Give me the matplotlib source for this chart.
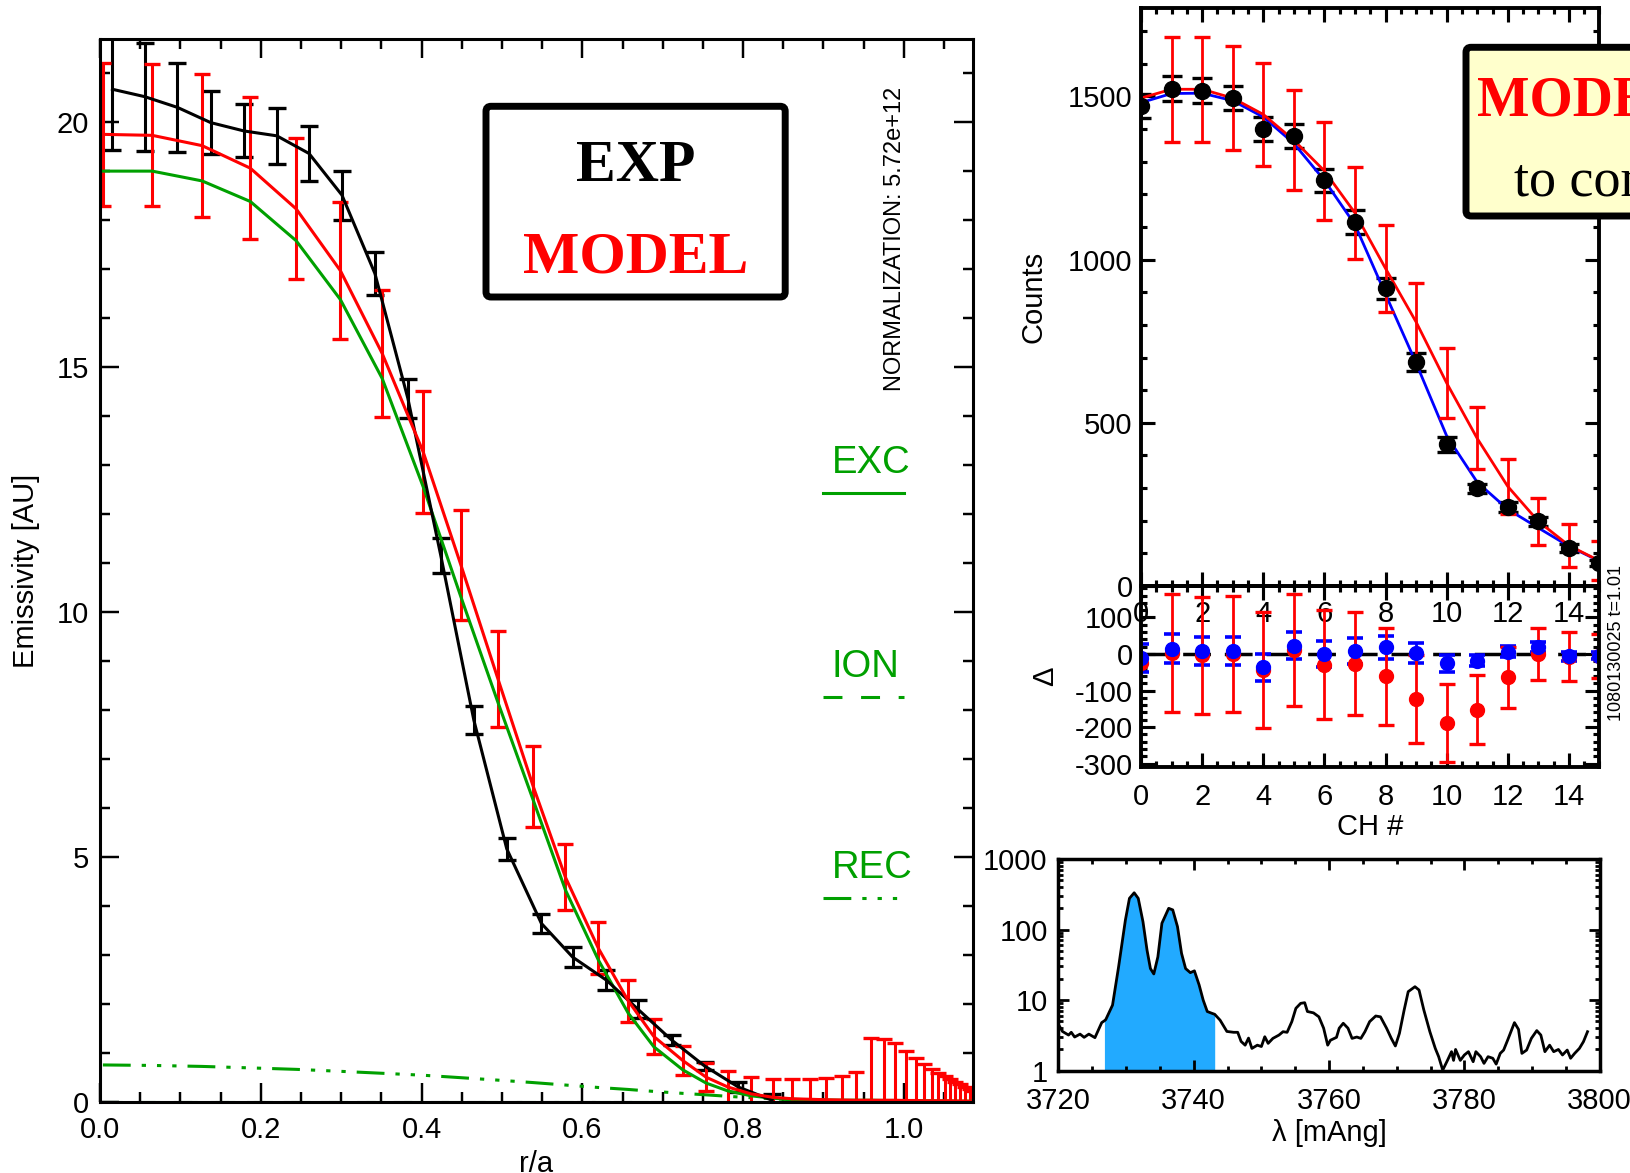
import matplotlib
matplotlib.use("Agg")
import numpy as np
import matplotlib.pyplot as plt
from matplotlib.lines import Line2D
from matplotlib.patches import FancyBboxPatch
from matplotlib.ticker import (MultipleLocator, FixedLocator, FixedFormatter,
                               LogLocator, NullFormatter, FormatStrFormatter)

plt.rcParams['font.family'] = ['Liberation Sans', 'DejaVu Sans']
plt.rcParams['axes.unicode_minus'] = False

RED = '#ff0000'
GREEN = '#00a000'
BLUE = '#0000ff'
FILL = '#22aaff'
BOXFILL = '#ffffcc'
SERIF = ['Liberation Serif', 'DejaVu Serif']

# ---------------- emissivity profile (r/a) ----------------
exp_r = [0.0155, 0.0555, 0.0964, 0.1377, 0.179, 0.220, 0.260, 0.301, 0.342, 0.383,
         0.424, 0.465, 0.506, 0.549, 0.588, 0.630, 0.669, 0.711, 0.752, 0.794, 0.836]
exp_em = [20.66, 20.51, 20.29, 19.98, 19.81, 19.71, 19.35, 18.50, 16.90, 14.35,
          11.14, 7.79, 5.16, 3.64, 2.95, 2.48, 1.89, 1.26, 0.73, 0.30, 0.03]
exp_err = [1.24, 1.10, 0.91, 0.64, 0.54, 0.57, 0.56, 0.50, 0.44, 0.40,
           0.36, 0.29, 0.23, 0.20, 0.20, 0.21, 0.19, 0.10, 0.08, 0.10, 0.12]

model_r = [0.0036, 0.065, 0.127, 0.187, 0.244, 0.299, 0.351, 0.402, 0.449, 0.495,
           0.539, 0.579, 0.620, 0.657, 0.689, 0.725, 0.754, 0.781, 0.810, 0.837,
           0.861, 0.883, 0.903, 0.923, 0.940, 0.959, 0.975, 0.989, 1.003, 1.015,
           1.025, 1.035, 1.043, 1.051, 1.058, 1.064, 1.070, 1.076, 1.082, 1.087]
model_em = [19.74, 19.72, 19.51, 19.05, 18.22, 16.96, 15.27, 13.26, 10.95, 8.63,
            6.43, 4.58, 3.13, 2.06, 1.33, 0.84, 0.50, 0.30, 0.16, 0.09,
            0.06, 0.05, 0.04, 0.035, 0.03, 0.03, 0.03, 0.03, 0.025, 0.025,
            0.02, 0.02, 0.02, 0.02, 0.02, 0.015, 0.015, 0.015, 0.01, 0.01]
model_err = [1.46, 1.45, 1.46, 1.45, 1.44, 1.40, 1.30, 1.25, 1.12, 0.98,
             0.83, 0.67, 0.53, 0.43, 0.36, 0.30, 0.29, 0.33, 0.34, 0.37,
             0.40, 0.41, 0.45, 0.485, 0.58, 1.28, 1.24, 1.16, 1.015, 0.875,
             0.75, 0.64, 0.57, 0.50, 0.44, 0.395, 0.345, 0.295, 0.25, 0.21]
exc_em = [18.99, 18.99, 18.79, 18.37, 17.57, 16.37, 14.76, 12.55, 10.30, 8.15,
          6.15, 4.32, 2.89, 1.81, 1.12, 0.65, 0.38, 0.22, 0.12, 0.07,
          0.05, 0.04, 0.035, 0.03, 0.03, 0.03, 0.025, 0.025, 0.02, 0.02,
          0.02, 0.02, 0.015, 0.015, 0.015, 0.01, 0.01, 0.01, 0.01, 0.01]
ion_em = [0.0, 0.0, 0.0, 0.0, 0.0, 0.0, 0.0, 0.0, 0.0, 0.0,
          0.0, 0.0, 0.0, 0.0, 0.0, 0.0, 0.0, 0.0, 0.0, 0.0,
          0.0, 0.0, 0.0, 0.0, 0.0, 0.0, 0.0, 0.0, 0.0, 0.0,
          0.0, 0.0, 0.0, 0.0, 0.0, 0.0, 0.0, 0.0, 0.0, 0.0]
rec_em = [0.75, 0.74, 0.72, 0.69, 0.66, 0.62, 0.58, 0.54, 0.49, 0.44,
          0.39, 0.34, 0.29, 0.25, 0.21, 0.17, 0.14, 0.11, 0.08, 0.06,
          0.04, 0.03, 0.02, 0.015, 0.01, 0.01, 0.01, 0.005, 0.005, 0.005,
          0.005, 0.0, 0.0, 0.0, 0.0, 0.0, 0.0, 0.0, 0.0, 0.0]
normalization = '5.72e+12'

# ---------------- channel counts ----------------
channel = [0, 1, 2, 3, 4, 5, 6, 7, 8, 9, 10, 11, 12, 13, 14, 15]
counts = [1471, 1524, 1518, 1495, 1401, 1378, 1243, 1116, 912, 686, 434, 300, 241, 198, 116, 71]
counts_err = [38, 39, 38, 38, 37, 37, 36, 36, 32, 27, 22, 14, 15, 14, 12, 10]
fit_blue = [1481, 1509, 1510, 1487, 1437, 1356, 1243, 1107, 894, 683, 460, 318, 235, 178, 122, 76]
model_counts = [1495, 1522, 1522, 1495, 1445, 1366, 1272, 1143, 973, 809, 622, 452, 305, 198, 124, 77]
model_counts_err = [0, 161, 161, 160, 158, 153, 150, 141, 132, 120, 107, 95, 83, 72, 67, 60]
shot_label = '1080130025 t=1.01'

# ---------------- spectrum ----------------
lam = [3719.8, 3720.6, 3721.5, 3721.9, 3722.4, 3723.2, 3723.8, 3724.5, 3725.4, 3726.4,
       3726.8, 3727.0, 3728.0, 3728.9, 3729.9, 3730.5, 3731.2, 3731.8, 3732.5, 3733.1,
       3733.6, 3734.1, 3734.7, 3735.3, 3736.3, 3736.9, 3737.6, 3738.2, 3738.8, 3739.5,
       3740.1, 3740.8, 3741.4, 3742.0, 3742.7, 3743.1, 3743.9, 3744.9, 3745.9, 3746.5,
       3747.0, 3747.6, 3748.1, 3748.6, 3749.4, 3750.0, 3750.5, 3751.0, 3751.7, 3752.6,
       3753.2, 3753.8, 3754.5, 3755.1, 3755.8, 3756.4, 3756.8, 3757.7, 3758.5, 3759.2,
       3759.8, 3760.2, 3761.1, 3761.5, 3762.1, 3762.8, 3763.4, 3764.1, 3764.7, 3765.3,
       3766.0, 3766.9, 3767.6, 3768.5, 3769.2, 3769.8, 3770.4, 3771.1, 3771.7, 3772.7,
       3773.3, 3774.0, 3774.9, 3775.7, 3776.2, 3776.8, 3777.5, 3778.1, 3778.4, 3778.7,
       3779.4, 3780.0, 3780.6, 3781.3, 3781.7, 3782.4, 3782.9, 3783.5, 3784.2, 3784.7,
       3785.3, 3785.8, 3786.4, 3787.4, 3788.0, 3788.5, 3789.2, 3789.9, 3790.7, 3791.3,
       3791.9, 3792.6, 3793.2, 3793.9, 3794.5, 3795.2, 3795.7, 3796.3, 3797.0, 3797.6,
       3798.2]
inten = [4.9, 3.6, 3.2, 3.5, 3.0, 3.3, 2.97, 3.3, 2.94, 4.8,
         5.1, 5.3, 8.5, 29.8, 136, 277, 332, 277, 129, 51,
         28, 23.5, 41, 123, 200, 190, 110, 46, 28, 24.5,
         26, 16.4, 10, 6.9, 6.5, 6.3, 5.2, 3.6, 3.5, 3.5,
         2.6, 2.3, 2.9, 2.07, 2.3, 2.2, 3.03, 2.44, 2.87, 3.2,
         3.57, 3.5, 4.96, 7.66, 9.0, 9.2, 6.9, 6.6, 5.8, 4.0,
         2.3, 2.7, 2.97, 4.0, 4.7, 4.0, 2.87, 3.0, 2.87, 3.57,
         4.96, 5.96, 5.8, 4.0, 2.87, 2.24, 3.38, 7.25, 13.2, 15.5,
         13.9, 7.3, 3.57, 2.07, 1.58, 1.02, 1.4, 1.86, 1.4, 2.0,
         1.4, 1.67, 1.86, 1.34, 1.86, 1.58, 1.27, 1.58, 1.5, 1.24,
         1.76, 1.96, 2.72, 4.8, 3.85, 1.76, 1.96, 2.87, 3.7, 3.2,
         1.86, 2.3, 1.86, 2.0, 1.67, 1.96, 1.5, 1.76, 2.07, 2.58,
         3.57]
line_lo, line_hi = 3726.8, 3743.1

# ---------------- figure ----------------
W, H, DPI = 1631, 1173, 100
fig = plt.figure(figsize=(W / DPI, H / DPI), dpi=DPI)


def rect(left, top, right, bottom):
    return [left / W, 1 - bottom / H, (right - left) / W, (bottom - top) / H]


def fx(px):
    return px / W


def fy(py):
    return 1 - py / H


TICKSIZE = 21


def style(ax, spine_lw, major, minor, xpad, ypad):
    ax.set_facecolor('none')
    for s in ax.spines.values():
        s.set_linewidth(spine_lw)
    ax.tick_params(which='both', direction='in', top=True, right=True,
                   width=spine_lw * 0.8, labelsize=TICKSIZE, colors='k')
    ax.tick_params(which='major', length=major)
    ax.tick_params(which='minor', length=minor)
    ax.tick_params(axis='x', pad=xpad)
    ax.tick_params(axis='y', pad=ypad)


LW = 2.2
ION_DASH = (0, (6.2, 6.1))
REC_DASH = (0, (9.1, 3.6, 1.4, 3.6, 1.4, 3.6, 1.4, 3.6))

# ----- left: emissivity -----
ax1 = fig.add_axes(rect(100, 39.3, 973, 1101.7))
style(ax1, 2.2, 14, 7, 10.5, 8)
ax1.set_xlim(0, 1.086)
ax1.set_ylim(0, 21.68)
ax1.xaxis.set_major_locator(MultipleLocator(0.2))
ax1.xaxis.set_minor_locator(MultipleLocator(0.05))
ax1.xaxis.set_major_formatter(FormatStrFormatter('%.1f'))
ax1.yaxis.set_major_locator(MultipleLocator(5))
ax1.yaxis.set_minor_locator(MultipleLocator(1))

ax1.axhline(0, color='k', lw=LW, ls=(0, (6, 6)))
ax1.plot(model_r, ion_em, color=GREEN, lw=LW, ls=ION_DASH)
ax1.plot(model_r, rec_em, color=GREEN, lw=LW, ls=REC_DASH)
ax1.errorbar(exp_r, exp_em, yerr=exp_err, color='k', lw=LW, elinewidth=LW,
             capsize=6.5, capthick=2.4)
ax1.errorbar(model_r, model_em, yerr=model_err, color=RED, lw=LW, elinewidth=LW,
             capsize=5.8, capthick=2.4)
ax1.plot(model_r, exc_em, color=GREEN, lw=LW)

ax1.text(-0.085, 0.5, 'Emissivity [AU]', transform=ax1.transAxes, rotation=90,
         ha='center', va='center', fontsize=21)
ax1.text(0.5, -0.0662, 'r/a', transform=ax1.transAxes, ha='center',
         va='baseline', fontsize=21)

fig.text(fx(895), fy(239), 'NORMALIZATION: ' + normalization, rotation=90,
         ha='center', va='center', fontsize=17)

for name, base, ls in [('EXC', 473, '-'), ('ION', 677, ION_DASH), ('REC', 878, REC_DASH)]:
    fig.text(fx(832), fy(base), name, color=GREEN, fontsize=27.5, va='baseline', ha='left')
    fig.add_artist(Line2D([fx(823), fx(904)], [fy(base + 20), fy(base + 20)],
                          transform=fig.transFigure, color=GREEN, lw=LW, ls=ls))

box1 = FancyBboxPatch((4.86, 8.76), 2.992, 1.907,
                      boxstyle='round,pad=0,rounding_size=0.05',
                      transform=fig.dpi_scale_trans, fc='white', ec='k', lw=5, zorder=5)
fig.add_artist(box1)
fig.text(fx(635.5), fy(180.7), 'EXP', ha='center', va='baseline', fontsize=43,
         fontweight='bold', family=SERIF, color='k', zorder=6)
fig.text(fx(635.5), fy(272.7), 'MODEL', ha='center', va='baseline', fontsize=43,
         fontweight='bold', family=SERIF, color=RED, zorder=6)

# ----- top right: counts per channel -----
ax2 = fig.add_axes(rect(1141, 8, 1599.5, 586))
style(ax2, 2.8, 10, 4.5, 10, 6)
ax2.set_xlim(0, 15)
ax2.set_ylim(0, 1771)
ax2.xaxis.set_major_locator(MultipleLocator(2))
ax2.xaxis.set_minor_locator(MultipleLocator(0.5))
ax2.yaxis.set_major_locator(MultipleLocator(500))
ax2.yaxis.set_minor_locator(MultipleLocator(100))

ax2.errorbar(channel, counts, yerr=counts_err, fmt='o', color='k', ms=11.5,
             elinewidth=2, capsize=7, capthick=2.4)
ax2.plot(channel, fit_blue, color=BLUE, lw=2)
ax2.errorbar(channel[1:], model_counts[1:], yerr=model_counts_err[1:], fmt='none',
             ecolor=RED, elinewidth=2, capsize=5.8, capthick=2.4)
ax2.plot(channel, model_counts, color=RED, lw=2)
ax2.text(-0.2355, 0.5, 'Counts', transform=ax2.transAxes, rotation=90,
         ha='center', va='center', fontsize=21)

box2 = FancyBboxPatch((14.66, 9.57), 3.0, 1.687,
                      boxstyle='round,pad=0,rounding_size=0.05',
                      transform=fig.dpi_scale_trans, fc=BOXFILL, ec='k', lw=5, zorder=5)
fig.add_artist(box2)
fig.text(fx(1476.7), fy(116), 'MODEL', ha='left', va='baseline', fontsize=40,
         fontweight='bold', family=SERIF, color=RED, zorder=6)
fig.text(fx(1514), fy(196), 'to compare', ha='left', va='baseline', fontsize=39,
         family=SERIF, color='k', zorder=6)

# ----- residuals -----
counts_a = np.array(counts, dtype=float)
res_blue = counts_a - np.array(fit_blue)
res_red = counts_a - np.array(model_counts)

ax3 = fig.add_axes(rect(1141, 586, 1599.5, 767.3))
style(ax3, 2.8, 10, 4.5, 11.5, 6)
ax3.set_xlim(0, 15)
ax3.set_ylim(-310, 186)
ax3.xaxis.set_major_locator(MultipleLocator(2))
ax3.xaxis.set_minor_locator(MultipleLocator(0.5))
ax3.yaxis.set_major_locator(FixedLocator([100, 0, -100, -200, -300]))
ax3.yaxis.set_minor_locator(MultipleLocator(20))
ax3.axhline(0, color='k', lw=2.5, ls=(0, (8, 4)))
ax3.errorbar(channel, res_blue, yerr=counts_err, fmt='o', color=BLUE, ms=10,
             elinewidth=2, capsize=6, capthick=2.6)
ax3.errorbar(channel[1:], res_red[1:], yerr=model_counts_err[1:], fmt='none',
             ecolor=RED, elinewidth=2, capsize=6, capthick=2.4)
ax3.plot(channel, res_red, 'o', color=RED, ms=10)
ax3.text(-0.209, 0.5, '\u0394', transform=ax3.transAxes, rotation=90,
         ha='center', va='center', fontsize=21)
ax3.text(0.5, -0.33, 'CH #', transform=ax3.transAxes, ha='center', va='center',
         fontsize=21)

fig.text(fx(1616.7), fy(643), shot_label, rotation=90, ha='center', va='center',
         fontsize=13)

# ----- spectrum -----
ax4 = fig.add_axes(rect(1058.4, 859, 1599.7, 1070.7))
style(ax4, 2.5, 8, 3.5, 12, 7.7)
ax4.set_yscale('log')
ax4.set_xlim(3720, 3800)
ax4.set_ylim(1, 1000)
ax4.xaxis.set_major_locator(MultipleLocator(20))
ax4.xaxis.set_minor_locator(MultipleLocator(5))
ax4.yaxis.set_major_locator(FixedLocator([1, 10, 100, 1000]))
ax4.yaxis.set_major_formatter(FixedFormatter(['1', '10', '100', '1000']))
ax4.yaxis.set_minor_locator(LogLocator(base=10, subs=(2, 3, 4, 5, 6, 7, 8, 9)))
ax4.yaxis.set_minor_formatter(NullFormatter())

lam_a = np.array(lam)
inten_a = np.array(inten)
in_line = (lam_a >= line_lo) & (lam_a <= line_hi)
ax4.fill_between(lam_a, inten_a, 1, where=in_line, color=FILL, lw=0)
ax4.plot(lam_a, inten_a, color='k', lw=2)
ax4.text(0.5, -0.294, '\u03bb [mAng]', transform=ax4.transAxes, ha='center',
         va='center', fontsize=21)

fig.savefig('out.png', dpi=DPI)
